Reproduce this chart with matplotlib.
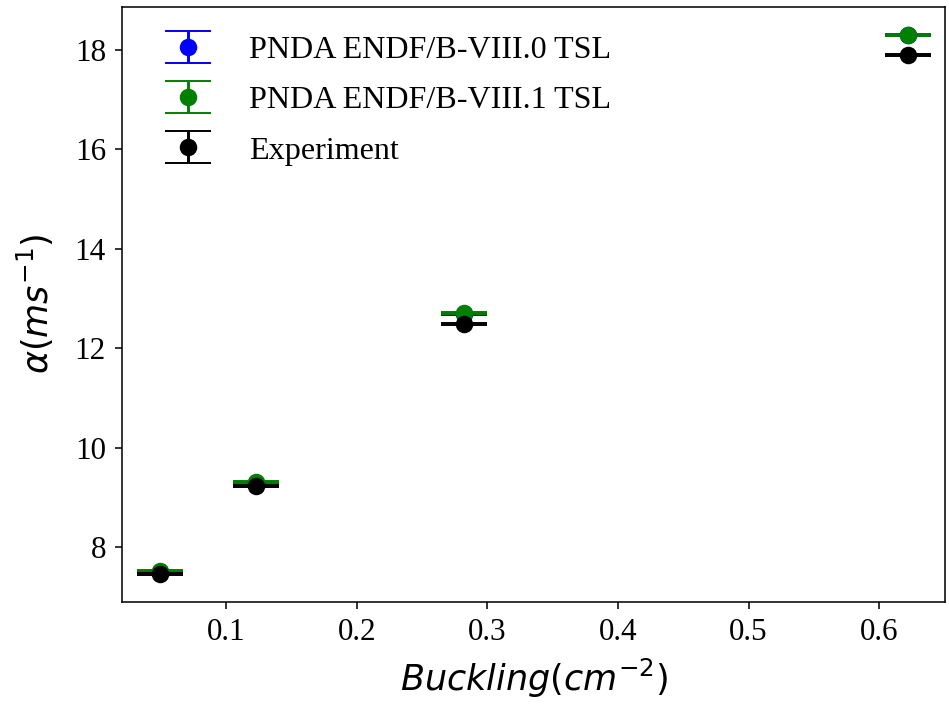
import matplotlib
matplotlib.use("Agg")
import matplotlib.pyplot as plt

# buckling values (cm^-2)
buckling = [0.049, 0.1224, 0.282, 0.622]

# decay constants alpha (ms^-1)
alpha_b80 = [7.50, 9.29, 12.69, 18.30]
alpha_b81 = [7.51, 9.30, 12.70, 18.31]
alpha_exp = [7.46, 9.22, 12.49, 17.90]

err_b80 = [0.02, 0.02, 0.02, 0.02]
err_b81 = [0.02, 0.02, 0.02, 0.02]
err_exp = [0.02, 0.02, 0.02, 0.02]

plt.rcParams['font.family'] = ['Liberation Serif', 'DejaVu Serif']

fig = plt.figure(figsize=(949/140, 706/140), dpi=140)
ax = fig.add_subplot(111)
fig.subplots_adjust(left=0.129, right=0.996, top=0.9905, bottom=0.1477)

ax.errorbar(buckling, alpha_b80, yerr=err_b80, fmt='o', color='blue',
            markersize=8, capsize=12, label='PNDA ENDF/B-VIII.0 TSL')
ax.errorbar(buckling, alpha_b81, yerr=err_b81, fmt='o', color='green',
            markersize=8, capsize=12, label='PNDA ENDF/B-VIII.1 TSL')
ax.errorbar(buckling, alpha_exp, yerr=err_exp, fmt='o', color='black',
            markersize=8, capsize=12, label='Experiment')

ax.set_xlabel(r'$Buckling (cm^{-2})$', fontsize=18, labelpad=5)
ax.set_ylabel(r'$\alpha (ms^{-1})$', fontsize=18, labelpad=9)
ax.tick_params(labelsize=16, pad=5)
ax.legend(fontsize=16.5, frameon=False, loc='upper left',
          labelspacing=0.65, handlelength=2.3, handletextpad=0.75)

fig.savefig('out.png', dpi=140)
